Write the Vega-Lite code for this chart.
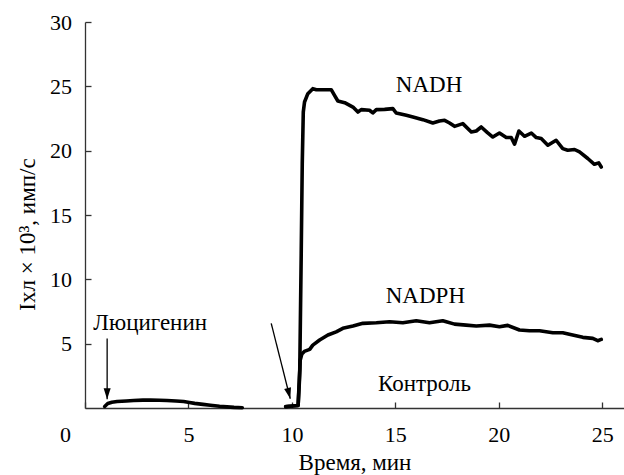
{
  "$schema": "https://vega.github.io/schema/vega-lite/v6.json",
  "autosize": {"type": "none"},
  "width": 539,
  "height": 386,
  "padding": {"left": 85, "top": 22, "right": 0, "bottom": 67},
  "background": "white",
  "config": {
    "view": {"stroke": null},
    "font": "'Liberation Serif', 'Times New Roman', 'DejaVu Serif', serif",
    "axis": {"grid": false, "labelOverlap": false, "labelFlush": false, "domainColor": "#333333", "domainWidth": 1.3, "tickColor": "#333333", "tickWidth": 1.3, "tickSize": -6, "labelColor": "#000000", "labelFont": "'Liberation Serif', 'Times New Roman', 'DejaVu Serif', serif", "labelFontSize": 22, "titleFont": "'Liberation Serif', 'Times New Roman', 'DejaVu Serif', serif", "titleFontSize": 23, "titleFontWeight": "normal", "titleColor": "#000000"}
  },
  "datasets": {
    "curves": [
      {"s": "Люцигенин", "t": 0.95, "v": 0.12}, {"s": "Люцигенин", "t": 1.1, "v": 0.35}, {"s": "Люцигенин", "t": 1.3, "v": 0.45}, {"s": "Люцигенин", "t": 1.55, "v": 0.5}, {"s": "Люцигенин", "t": 2.0, "v": 0.55}, {"s": "Люцигенин", "t": 2.35, "v": 0.58}, {"s": "Люцигенин", "t": 2.8, "v": 0.61}, {"s": "Люцигенин", "t": 3.16, "v": 0.62}, {"s": "Люцигенин", "t": 3.6, "v": 0.6}, {"s": "Люцигенин", "t": 3.96, "v": 0.58}, {"s": "Люцигенин", "t": 4.4, "v": 0.54}, {"s": "Люцигенин", "t": 4.77, "v": 0.5}, {"s": "Люцигенин", "t": 5.05, "v": 0.43}, {"s": "Люцигенин", "t": 5.3, "v": 0.36}, {"s": "Люцигенин", "t": 5.7, "v": 0.28}, {"s": "Люцигенин", "t": 6.06, "v": 0.22}, {"s": "Люцигенин", "t": 6.5, "v": 0.14}, {"s": "Люцигенин", "t": 6.86, "v": 0.09}, {"s": "Люцигенин", "t": 7.2, "v": 0.05}, {"s": "Люцигенин", "t": 7.6, "v": 0.02},
      {"s": "NADH", "t": 9.7, "v": 0.12}, {"s": "NADH", "t": 10.0, "v": 0.15}, {"s": "NADH", "t": 10.3, "v": 0.2}, {"s": "NADH", "t": 10.38, "v": 3}, {"s": "NADH", "t": 10.45, "v": 12}, {"s": "NADH", "t": 10.5, "v": 19}, {"s": "NADH", "t": 10.55, "v": 23.0}, {"s": "NADH", "t": 10.61, "v": 23.78}, {"s": "NADH", "t": 10.77, "v": 24.43}, {"s": "NADH", "t": 11.01, "v": 24.82}, {"s": "NADH", "t": 11.18, "v": 24.74}, {"s": "NADH", "t": 11.5, "v": 24.74}, {"s": "NADH", "t": 11.9, "v": 24.74}, {"s": "NADH", "t": 12.06, "v": 24.3}, {"s": "NADH", "t": 12.22, "v": 23.86}, {"s": "NADH", "t": 12.55, "v": 23.73}, {"s": "NADH", "t": 12.95, "v": 23.39}, {"s": "NADH", "t": 13.19, "v": 23.0}, {"s": "NADH", "t": 13.35, "v": 23.19}, {"s": "NADH", "t": 13.75, "v": 23.14}, {"s": "NADH", "t": 13.91, "v": 22.93}, {"s": "NADH", "t": 14.08, "v": 23.19}, {"s": "NADH", "t": 14.48, "v": 23.21}, {"s": "NADH", "t": 14.88, "v": 23.27}, {"s": "NADH", "t": 15.04, "v": 22.93}, {"s": "NADH", "t": 15.53, "v": 22.75}, {"s": "NADH", "t": 15.85, "v": 22.62}, {"s": "NADH", "t": 16.33, "v": 22.41}, {"s": "NADH", "t": 16.81, "v": 22.15}, {"s": "NADH", "t": 17.13, "v": 22.3}, {"s": "NADH", "t": 17.38, "v": 22.36}, {"s": "NADH", "t": 17.62, "v": 22.15}, {"s": "NADH", "t": 17.86, "v": 21.89}, {"s": "NADH", "t": 18.26, "v": 22.1}, {"s": "NADH", "t": 18.67, "v": 21.45}, {"s": "NADH", "t": 18.91, "v": 21.53}, {"s": "NADH", "t": 19.15, "v": 21.84}, {"s": "NADH", "t": 19.45, "v": 21.4}, {"s": "NADH", "t": 19.71, "v": 21.06}, {"s": "NADH", "t": 20.03, "v": 21.37}, {"s": "NADH", "t": 20.36, "v": 21.02}, {"s": "NADH", "t": 20.6, "v": 21.02}, {"s": "NADH", "t": 20.76, "v": 20.5}, {"s": "NADH", "t": 20.97, "v": 21.53}, {"s": "NADH", "t": 21.24, "v": 21.12}, {"s": "NADH", "t": 21.57, "v": 21.37}, {"s": "NADH", "t": 21.81, "v": 21.02}, {"s": "NADH", "t": 22.05, "v": 20.94}, {"s": "NADH", "t": 22.37, "v": 20.42}, {"s": "NADH", "t": 22.77, "v": 20.81}, {"s": "NADH", "t": 23.09, "v": 20.16}, {"s": "NADH", "t": 23.33, "v": 20.03}, {"s": "NADH", "t": 23.66, "v": 20.09}, {"s": "NADH", "t": 23.9, "v": 19.9}, {"s": "NADH", "t": 24.3, "v": 19.39}, {"s": "NADH", "t": 24.62, "v": 18.94}, {"s": "NADH", "t": 24.83, "v": 19.05}, {"s": "NADH", "t": 24.95, "v": 18.73},
      {"s": "NADPH", "t": 9.7, "v": 0.1}, {"s": "NADPH", "t": 10.0, "v": 0.15}, {"s": "NADPH", "t": 10.3, "v": 0.2}, {"s": "NADPH", "t": 10.36, "v": 2}, {"s": "NADPH", "t": 10.4, "v": 3.7}, {"s": "NADPH", "t": 10.48, "v": 4.2}, {"s": "NADPH", "t": 10.6, "v": 4.4}, {"s": "NADPH", "t": 10.86, "v": 4.56}, {"s": "NADPH", "t": 11.01, "v": 4.89}, {"s": "NADPH", "t": 11.34, "v": 5.28}, {"s": "NADPH", "t": 11.74, "v": 5.67}, {"s": "NADPH", "t": 12.14, "v": 5.92}, {"s": "NADPH", "t": 12.46, "v": 6.19}, {"s": "NADPH", "t": 12.95, "v": 6.37}, {"s": "NADPH", "t": 13.43, "v": 6.58}, {"s": "NADPH", "t": 14.08, "v": 6.62}, {"s": "NADPH", "t": 14.72, "v": 6.7}, {"s": "NADPH", "t": 15.36, "v": 6.62}, {"s": "NADPH", "t": 16.01, "v": 6.78}, {"s": "NADPH", "t": 16.65, "v": 6.62}, {"s": "NADPH", "t": 17.29, "v": 6.78}, {"s": "NADPH", "t": 17.46, "v": 6.7}, {"s": "NADPH", "t": 17.86, "v": 6.52}, {"s": "NADPH", "t": 18.42, "v": 6.44}, {"s": "NADPH", "t": 18.91, "v": 6.37}, {"s": "NADPH", "t": 19.55, "v": 6.44}, {"s": "NADPH", "t": 20.03, "v": 6.31}, {"s": "NADPH", "t": 20.43, "v": 6.42}, {"s": "NADPH", "t": 21.0, "v": 6.06}, {"s": "NADPH", "t": 21.48, "v": 6.0}, {"s": "NADPH", "t": 21.97, "v": 6.0}, {"s": "NADPH", "t": 22.61, "v": 5.85}, {"s": "NADPH", "t": 23.09, "v": 5.85}, {"s": "NADPH", "t": 23.57, "v": 5.67}, {"s": "NADPH", "t": 24.06, "v": 5.49}, {"s": "NADPH", "t": 24.54, "v": 5.41}, {"s": "NADPH", "t": 24.78, "v": 5.23}, {"s": "NADPH", "t": 24.95, "v": 5.33}
    ],
    "arrows": [
      {"a": "luc", "t": 1.07, "v": 5.41, "t2": 1.07, "v2": 0.68},
      {"a": "add", "t": 9.0, "v": 6.58, "t2": 9.92, "v2": 0.72}
    ],
    "labels": [
      {"label": "NADH", "t": 16.63, "v": 24.56},
      {"label": "NADPH", "t": 16.45, "v": 8.18},
      {"label": "Контроль", "t": 16.41, "v": 1.34},
      {"label": "Люцигенин", "t": 3.15, "v": 6.06}
    ]
  },
  "encoding": {
    "x": {"field": "t", "type": "quantitative", "scale": {"domain": [0, 26.05], "nice": false, "zero": false},
      "axis": {"values": [0, 5, 10, 15, 20, 25], "title": "Время, мин", "labelBaseline": "alphabetic", "labelPadding": 39.5, "labelOffset": {"condition": {"test": "datum.value === 0", "value": -20}, "value": 0}, "titleY": 61, "titleBaseline": "alphabetic", "titleAnchor": "middle"}},
    "y": {"field": "v", "type": "quantitative", "scale": {"domain": [0, 30], "nice": false, "zero": false},
      "axis": {"values": [5, 10, 15, 20, 25, 30], "title": "Iхл × 10³, имп/с", "labelAlign": "right", "labelBaseline": "middle", "labelPadding": 19.5, "titleX": -58, "titleY": 212, "titleAngle": 270, "titleAlign": "center", "titleBaseline": "middle"}}
  },
  "layer": [
    {
      "data": {"name": "curves"},
      "mark": {"type": "line", "color": "#000000", "strokeWidth": 3.6, "strokeJoin": "round", "strokeCap": "round", "clip": false},
      "encoding": {"detail": {"field": "s", "type": "nominal"}}
    },
    {
      "data": {"name": "arrows"},
      "mark": {"type": "rule", "color": "#000000", "strokeWidth": 1.3},
      "encoding": {"x2": {"field": "t2"}, "y2": {"field": "v2"}}
    },
    {
      "data": {"name": "arrows"},
      "transform": [{"filter": "datum.a === 'luc'"}],
      "mark": {"type": "point", "shape": "M0,0 L-0.32,-1 L0.32,-1 Z", "size": 484, "filled": true, "color": "#000000", "opacity": 1, "strokeWidth": 0},
      "encoding": {"x": {"field": "t2", "type": "quantitative"}, "y": {"field": "v2", "type": "quantitative"}}
    },
    {
      "data": {"name": "arrows"},
      "transform": [{"filter": "datum.a === 'add'"}],
      "mark": {"type": "point", "shape": "M0,0 L-0.32,-1 L0.32,-1 Z", "size": 484, "filled": true, "color": "#000000", "opacity": 1, "strokeWidth": 0, "angle": 346},
      "encoding": {"x": {"field": "t2", "type": "quantitative"}, "y": {"field": "v2", "type": "quantitative"}}
    },
    {
      "data": {"name": "labels"},
      "mark": {"type": "text", "font": "'Liberation Serif', 'Times New Roman', 'DejaVu Serif', serif", "fontSize": 23, "color": "#000000", "align": "center", "baseline": "alphabetic"},
      "encoding": {"text": {"field": "label", "type": "nominal"}}
    }
  ]
}
